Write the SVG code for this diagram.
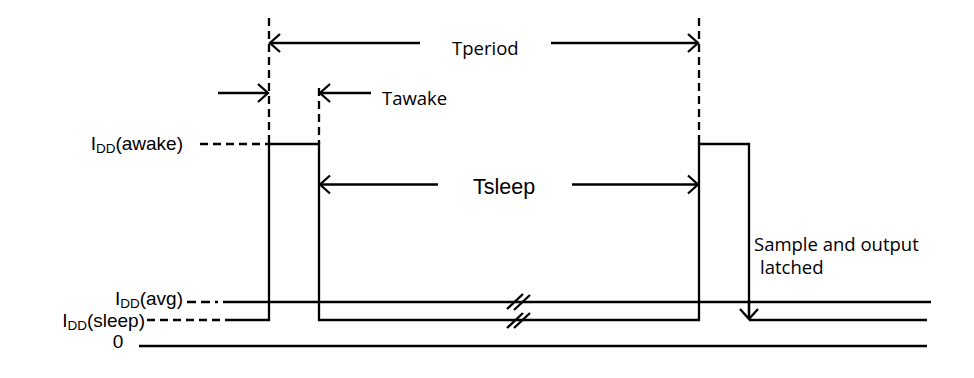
<svg xmlns="http://www.w3.org/2000/svg" width="974" height="378" viewBox="0 0 974 378">
<style>
.ln{stroke:#000;stroke-width:2.3;fill:none}
.ds{stroke:#000;stroke-width:2.3;fill:none;stroke-dasharray:8,5}
.ar{stroke:#000;stroke-width:2.3;fill:none}
.cal{font-family:"Open Sans","Liberation Sans",sans-serif;font-size:18.5px;fill:#000}
.ari{font-family:"Liberation Sans",Arial,sans-serif;font-size:19px;fill:#000}
.sub{font-size:13.5px}
</style>
<defs>
<marker id="ah" markerUnits="userSpaceOnUse" markerWidth="24" markerHeight="24" viewBox="-12 -12 24 24" refX="0" refY="0" orient="auto">
<path d="M-10,-9 L0,0 L-10,9" stroke="#000" stroke-width="2.3" fill="none"/>
</marker>
</defs>
<rect width="974" height="378" fill="#fff"/>
<g id="guides">
<line class="ds" x1="269" y1="18" x2="269" y2="144"/>
<line class="ds" x1="319" y1="88" x2="319" y2="144"/>
<line class="ds" x1="699" y1="18" x2="699" y2="144"/>
<line class="ds" x1="200" y1="144" x2="269" y2="144"/>
<line class="ds" x1="147" y1="320" x2="225" y2="320"/>
<line class="ln" x1="187" y1="302" x2="225" y2="302" style="stroke-dasharray:9,5,9,5,3,5"/>
</g>
<g id="waveform">
<polyline class="ln" points="225,320 269,320 269,144 319,144 319,320 699,320 699,144 749,144 749,318"/>
<line class="ln" x1="749" y1="320" x2="927" y2="320"/>
<line class="ln" x1="225" y1="302" x2="931" y2="302"/>
<line class="ln" x1="139" y1="346" x2="927" y2="346"/>
<g id="breaks">
<line class="ln" x1="507" y1="309" x2="523" y2="294"/>
<line class="ln" x1="514" y1="310" x2="530" y2="295"/>
<line class="ln" x1="507" y1="328" x2="523" y2="313"/>
<line class="ln" x1="514" y1="328" x2="530" y2="313"/>
</g>
</g>
<g id="connectors">
<line class="ar" x1="420" y1="43" x2="270" y2="43" marker-end="url(#ah)"/>
<line class="ar" x1="551" y1="43" x2="698" y2="43" marker-end="url(#ah)"/>
<line class="ar" x1="218" y1="93" x2="268" y2="93" marker-end="url(#ah)"/>
<line class="ar" x1="371" y1="93" x2="320" y2="93" marker-end="url(#ah)"/>
<line class="ar" x1="438" y1="184.5" x2="320" y2="184.5" marker-end="url(#ah)"/>
<line class="ar" x1="572" y1="184.5" x2="698" y2="184.5" marker-end="url(#ah)"/>
<line class="ar" x1="749" y1="300" x2="749" y2="319" marker-end="url(#ah)"/>
</g>
<g id="label-tperiod"><text class="cal" x="452" y="55">Tperiod</text></g>
<g id="label-tawake"><text class="cal" x="382" y="105">Tawake</text></g>
<g id="label-tsleep"><text class="ari" x="473" y="194" style="font-size:21.5px">Tsleep</text></g>
<g id="label-sample"><text class="cal" x="754" y="251">Sample and output</text><text class="cal" x="760" y="274">latched</text></g>
<g id="label-awake"><text class="ari" x="183" y="150" text-anchor="end">I<tspan class="sub" dy="3">DD</tspan><tspan dy="-3">(awake)</tspan></text></g>
<g id="label-avg"><text class="ari" x="183" y="305" text-anchor="end">I<tspan class="sub" dy="3">DD</tspan><tspan dy="-3">(avg)</tspan></text></g>
<g id="label-sleep"><text class="ari" x="145" y="327" text-anchor="end">I<tspan class="sub" dy="3">DD</tspan><tspan dy="-3">(sleep)</tspan></text></g>
<g id="label-zero"><text class="ari" x="118" y="348" text-anchor="middle">0</text></g>
</svg>
